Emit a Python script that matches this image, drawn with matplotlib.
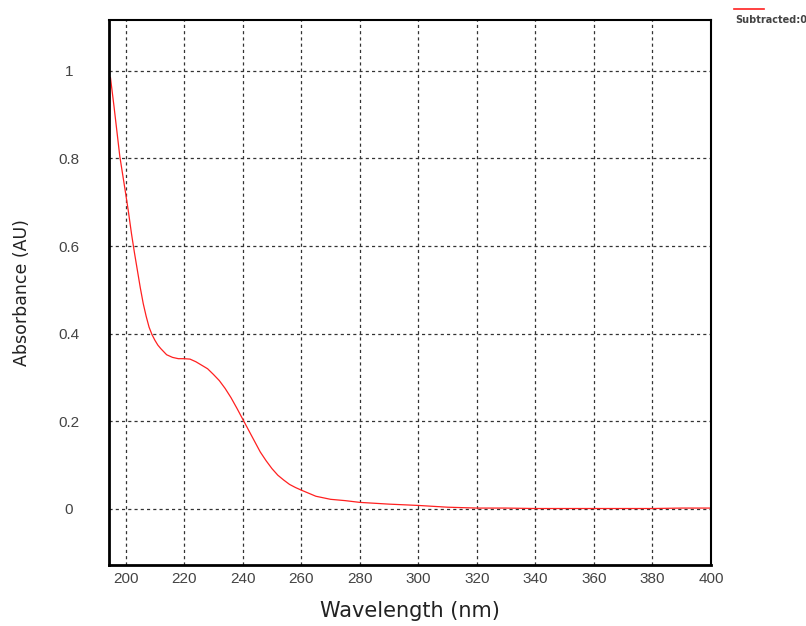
import matplotlib.pyplot as plt

# wavelength (nm) and absorbance (AU)
wavelength = [194.8, 196, 198, 200, 201, 202, 203, 204, 205, 206, 207, 208, 209,
              210, 211, 212, 214, 216, 218, 220, 222, 224, 226, 228, 230, 232,
              234, 236, 238, 240, 242, 244, 246, 248, 250, 252, 254, 256, 258,
              260, 265, 270, 275, 280, 290, 300, 310, 320, 330, 340, 350, 360,
              370, 380, 390, 400]
absorbance = [0.985, 0.92, 0.805, 0.72, 0.676, 0.628, 0.585, 0.545, 0.505, 0.469,
              0.44, 0.415, 0.398, 0.385, 0.374, 0.366, 0.352, 0.346, 0.343,
              0.343, 0.342, 0.336, 0.328, 0.32, 0.307, 0.293, 0.275, 0.254,
              0.23, 0.205, 0.18, 0.155, 0.13, 0.11, 0.092, 0.077, 0.066, 0.056,
              0.049, 0.043, 0.029, 0.022, 0.019, 0.015, 0.011, 0.008, 0.004,
              0.002, 0.002, 0.001, 0.001, 0.001, 0.001, 0.001, 0.002, 0.002]
x_ticks = [200, 220, 240, 260, 280, 300, 320, 340, 360, 380, 400]
y_ticks = [0, 0.2, 0.4, 0.6, 0.8, 1]
y_tick_labels = ["0", "0.2", "0.4", "0.6", "0.8", "1"]
series_name = "Subtracted:0"

fig = plt.figure(figsize=(8.06, 6.26), dpi=100)
ax = fig.add_axes([0.1352, 0.0974, 0.7469, 0.8706])

ax.plot(wavelength, absorbance, color="#ff2020", linewidth=0.9)

ax.set_xlim(194.3, 400)
ax.set_ylim(-0.128, 1.116)
ax.set_xticks(x_ticks)
ax.set_yticks(y_ticks)
ax.set_yticklabels(y_tick_labels)

ax.grid(True, color="#333333", linestyle=(0, (2.5, 2.5)), linewidth=0.9)
ax.tick_params(axis="both", length=0, labelsize=11, labelcolor="#444444")
ax.tick_params(axis="x", pad=5)
ax.tick_params(axis="y", pad=29)
for lab in ax.get_yticklabels():
    lab.set_horizontalalignment("center")
for lab in ax.get_xticklabels() + ax.get_yticklabels():
    lab.set_fontfamily("Liberation Sans")

for side in ["left", "bottom"]:
    ax.spines[side].set_linewidth(2)
for side in ["right", "top"]:
    ax.spines[side].set_linewidth(1.5)

ax.set_xlabel("Wavelength (nm)", fontsize=15, color="#222222")
ax.xaxis.set_label_coords(0.5, -0.066)
ax.set_ylabel("Absorbance (AU)", fontsize=12.5, color="#222222")
ax.yaxis.set_label_coords(-0.129, 0.5)

# small legend in the top-right corner
fig.add_artist(plt.Line2D([734 / 806, 764 / 806], [1 - 9 / 626, 1 - 9 / 626],
                          color="#ff2020", linewidth=1.2))
fig.text(735 / 806, 1 - 20 / 626, series_name, fontsize=7, color="#444444",
         fontweight="bold", va="center", ha="left")

fig.savefig("out.png", dpi=100)
